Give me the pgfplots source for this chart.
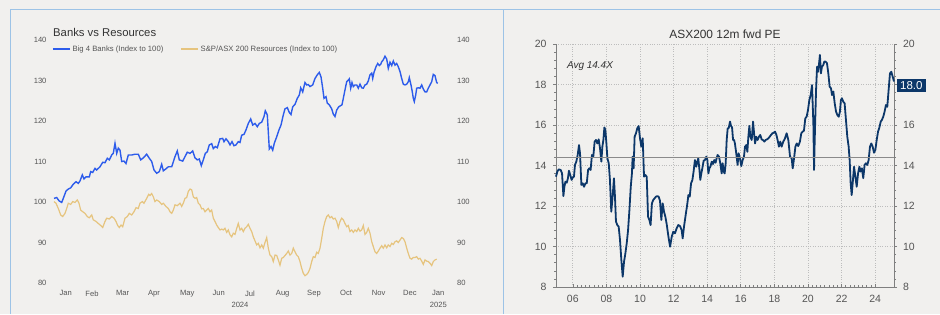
\documentclass[border=0pt]{standalone}
\usepackage{pgfplots}
\pgfplotsset{compat=1.18}
\usepackage{fontspec}
\setmainfont{Liberation Sans}
\definecolor{bg}{HTML}{F1F0EE}
\definecolor{bordercol}{HTML}{9DC3E6}
\definecolor{bankblue}{RGB}{45,92,235}
\definecolor{resgold}{RGB}{230,196,126}
\definecolor{navy}{RGB}{12,55,105}
\definecolor{avgcol}{HTML}{8A8A8A}
\definecolor{gridcol}{HTML}{BDBDBD}
\definecolor{axcol}{HTML}{7F7F7F}
\definecolor{labelgray}{HTML}{555555}
\definecolor{titlegray}{HTML}{333333}
\begin{document}
\begin{tikzpicture}
\path[use as bounding box, fill=bg] (0pt,0pt) rectangle (940pt,314pt);
\draw[bordercol, line width=1pt] (10pt,0pt) -- (10pt,304pt) -- (940pt,304pt);
\draw[bordercol, line width=1pt] (503pt,0pt) -- (503pt,304pt);

% ---------------- Left chart ----------------
\begin{axis}[
  at={(50pt,31pt)}, anchor=south west, scale only axis,
  width=392pt, height=243pt,
  xmin=-4, xmax=388, ymin=80, ymax=140, clip=false,
  axis line style={draw=none}, major tick length=0pt,
  ytick={80,90,...,140},
  xtick={11.7,38,68.7,100,133.3,164.7,196,228.7,260,292,324.7,356,384.3},
  xticklabels={Jan,Feb,Mar,Apr,May,Jun,Jul,Aug,Sep,Oct,Nov,Dec,Jan},
  tick label style={font=\fontsize{7.6}{9}\selectfont, text=labelgray},
  xticklabel style={yshift=-4pt},
  /pgf/number format/assume math mode=true,
  legend columns=2,
  legend style={at={(0.005,0.963)}, anchor=west, draw=none, fill=none,
    font=\fontsize{7.7}{9}\selectfont, text=labelgray, inner sep=0pt,
    /tikz/every even column/.append style={column sep=15pt}},
]
\addplot[bankblue, line width=1.4pt] coordinates {
(0,100.9)(2.7,101.1)(5,100.3)(7.7,99.9)(9.3,100.9)(12,102.7)(14.3,103.2)(16.7,103.5)(19.3,104.4)(22,105.0)(24.3,104.6)(26,105.2)(28.3,106.7)(30,105.7)(32,106.2)(35.3,106.2)(36.7,107.5)(38.7,107.3)(41,108.3)(42.7,107.9)(46,108.7)(48.7,109.8)(51,109.7)(53.3,110.8)(55.3,110.4)(57.7,111.6)(59.3,112.0)(61,114.5)(62.7,112.0)(64.3,113.3)(66,112.8)(67.7,110.0)(70,110.1)(72,109.5)(74.3,111.6)(77.7,111.6)(81,111.8)(84.3,111.8)(86.7,110.4)(89.3,110.9)(92.7,111.8)(95.3,110.8)(97.7,110.0)(100,107.9)(102.7,107.1)(105.3,107.5)(107.7,109.3)(109.3,107.7)(112,108.2)(114.3,108.7)(117.7,108.7)(121,111.2)(123.3,112.6)(125.3,110.4)(128.7,110.1)(131,111.2)(133.3,112.3)(136,112.0)(138.7,112.6)(141,110.9)(143.3,110.4)(145.3,110.6)(147.3,109.0)(149.3,110.4)(151.3,112.0)(153.3,112.4)(155.3,114.1)(157.7,114.4)(159.3,113.2)(161.3,113.7)(163.3,113.4)(166,115.6)(168.7,115.7)(170,114.9)(172,115.6)(174.3,114.9)(176,114.1)(178,114.9)(180,113.9)(182,114.1)(184.3,114.9)(186,114.7)(187.7,116.5)(190,116.7)(192,117.8)(194.3,119.4)(196.7,120.5)(198.7,119.0)(201,119.4)(203.3,118.6)(205.3,119.4)(207.7,119.7)(210,121.1)(211.3,122.5)(213.3,121.5)(215.3,113.1)(217,113.7)(218.7,112.8)(220.3,114.5)(222.7,116.1)(225,117.8)(227,119.0)(229.3,121.5)(231,123.0)(233.3,123.3)(235.3,122.1)(237,121.6)(238.7,123.5)(241,124.1)(243.3,125.6)(245.3,126.4)(246.7,128.2)(248.7,127.2)(251,129.5)(252.7,128.9)(254.3,129.0)(256,128.5)(258.7,128.9)(261,130.5)(263.3,131.4)(265.3,132.0)(267,130.9)(268.7,128.1)(270,125.6)(272,126.0)(273.3,124.4)(275.3,124.0)(277.7,123.0)(279.3,121.7)(281,121.1)(282.7,122.7)(284.7,123.5)(286.7,123.8)(288,124.0)(289.3,125.6)(291,127.7)(292.7,129.7)(294.3,130.1)(295.3,130.4)(296.7,128.1)(298,129.5)(299.3,128.5)(301,128.9)(302.7,128.9)(304.3,128.1)(306,129.1)(307.7,128.2)(309.3,128.1)(311,128.9)(312.7,129.1)(314.3,129.9)(316,131.4)(317.7,131.8)(318.7,130.5)(320,132.0)(322,133.4)(323.7,134.2)(325.3,133.7)(326.7,134.0)(327.7,134.6)(329.3,135.1)(331,136.0)(332.7,135.3)(334.3,133.0)(336,134.5)(337.7,133.7)(339.3,134.8)(341,133.8)(342.7,134.2)(344.3,133.4)(346,132.2)(347.7,130.5)(349.3,129.1)(351,128.9)(352.7,129.1)(354.3,129.7)(355.3,130.7)(357,128.9)(358.3,127.2)(359.3,125.6)(360.3,124.8)(361.7,126.4)(362.7,128.1)(364.3,128.2)(366,128.1)(367.7,128.9)(369.3,127.9)(371,127.2)(372.7,127.2)(374.3,128.1)(376,128.9)(377.7,129.7)(379.3,131.5)(381,131.2)(382.7,129.5)(383.7,129.3)
};
\addlegendentry{Big 4 Banks (Index to 100)}
\addplot[resgold, line width=1.2pt] coordinates {
(0,100.1)(2,99.7)(4.3,98.4)(6.7,96.8)(8.7,96.4)(11,97.2)(12.7,98.4)(14.3,99.7)(16.7,99.4)(18.7,100.1)(21,99.9)(23.3,100.5)(25,99.7)(26.7,98.0)(28.7,97.6)(31,97.2)(33.3,96.4)(35.3,96.1)(37.7,96.8)(39.3,95.6)(42,95.2)(44.3,94.7)(46.7,94.2)(48.7,93.7)(51,95.2)(52.7,96.0)(55.3,95.8)(57.7,96.4)(60,96.0)(62,95.2)(63.7,94.2)(65.3,93.7)(67,94.3)(68.7,93.9)(71,96.0)(73.3,96.4)(75.3,97.2)(77.7,96.8)(80,97.6)(82,98.6)(84.3,98.4)(86,99.7)(88.3,100.1)(90,99.7)(92.7,100.9)(94.7,101.9)(96,101.6)(97.7,102.1)(99.3,101.3)(101,100.1)(102.7,100.5)(105.3,100.1)(107.7,99.4)(109.3,99.7)(112,98.9)(114.3,98.4)(116,97.6)(117.7,97.2)(119.3,98.0)(121,99.3)(123.3,99.1)(126,99.7)(127.7,98.9)(129.3,99.7)(131,100.9)(132.7,101.1)(134.3,102.6)(136,103.2)(137.7,103.0)(139.3,101.3)(141,100.9)(142.7,101.1)(144.3,99.7)(146,99.3)(147.7,98.3)(149.3,98.4)(151,97.6)(152.7,98.0)(154.3,98.4)(156,97.6)(157.7,98.0)(159.3,96.0)(161,95.2)(162.7,94.3)(164.3,93.7)(166,93.1)(167.7,93.3)(169.3,93.1)(171,93.5)(172.7,92.5)(174.3,93.1)(176,91.9)(177.7,91.4)(179.3,92.3)(181,92.0)(182.7,93.5)(184.3,94.7)(186,93.1)(187.7,93.5)(189.3,92.7)(191,93.5)(192.7,93.9)(194.3,94.5)(196,93.5)(197.7,92.7)(199.3,91.4)(201,90.4)(202.7,89.4)(204.3,89.8)(206,88.7)(207.7,89.4)(209.3,88.6)(211,90.0)(212.7,91.2)(214.3,88.6)(216,86.9)(217.7,86.5)(219.3,85.3)(221,86.9)(222.7,86.8)(224.3,85.7)(226,84.4)(227.7,86.1)(229.3,86.3)(231,86.8)(232.7,87.3)(234.3,87.9)(236,86.9)(237.7,87.3)(239.3,88.6)(241,87.7)(242.7,86.9)(244.3,86.5)(246,85.3)(247.7,83.6)(249.3,82.4)(251,81.8)(252.7,82.1)(254.3,82.6)(256,83.6)(257.7,85.3)(259.3,86.5)(261,86.3)(262.7,87.6)(264.3,87.3)(266,88.6)(267.7,91.0)(269.3,93.5)(271,95.2)(272.7,96.4)(274.3,96.8)(276,96.1)(277.7,96.4)(279.3,95.8)(281,96.0)(282.7,95.2)(284.3,93.7)(286,95.2)(287.7,96.0)(289.3,95.6)(291,94.7)(292.7,93.9)(294.3,94.2)(296,92.7)(297.7,93.1)(299.3,92.5)(301,93.1)(302.7,92.7)(304.3,93.5)(306,92.8)(307.7,93.1)(309.3,94.2)(311,92.0)(312.7,92.5)(314.3,93.5)(316,92.3)(317.7,90.2)(319.3,89.0)(321,87.7)(322.7,87.3)(324.3,87.9)(326,88.6)(327.7,89.2)(329.3,88.6)(331,89.4)(332.7,88.7)(334.3,89.4)(336,89.0)(337.7,89.8)(339.3,89.5)(341,90.2)(342.7,90.4)(344.3,90.0)(346,90.6)(347.7,91.2)(349.3,91.0)(351,90.2)(352.7,88.6)(354.3,87.3)(356,86.1)(357.7,85.9)(359.3,86.3)(361,86.3)(362.7,86.5)(364.3,85.9)(366,86.1)(367.7,85.4)(369.3,84.6)(371,85.7)(372.7,85.4)(374.3,85.3)(376,84.9)(377.7,84.3)(379.3,85.3)(381,85.7)(382.7,85.9)
};
\addlegendentry{S\&P/ASX 200 Resources (Index to 100)}
\end{axis}
\begin{axis}[
  at={(50pt,31pt)}, anchor=south west, scale only axis,
  width=392pt, height=243pt,
  xmin=-4, xmax=388, ymin=80, ymax=140,
  hide x axis, axis line style={draw=none}, major tick length=0pt,
  ytick={80,90,...,140}, yticklabel pos=right,
  tick label style={font=\fontsize{7.6}{9}\selectfont, text=labelgray},
  yticklabel style={xshift=11.5pt},
  /pgf/number format/assume math mode=true,
]
\end{axis}
\fill[bg] (469.5pt,20pt) rectangle (500pt,290pt);
\node[anchor=west, font=\fontsize{11.3}{13}\selectfont, text=titlegray, inner sep=0pt] at (53pt,282pt) {Banks vs Resources};
\node[font=\fontsize{7.6}{9}\selectfont, text=labelgray, inner sep=0pt] at (240pt,9.5pt) {2024};
\node[font=\fontsize{7.6}{9}\selectfont, text=labelgray, inner sep=0pt] at (438.3pt,9pt) {2025};

% ---------------- Right chart ----------------
% left y axis + horizontal grid
\begin{axis}[
  at={(556pt,27pt)}, anchor=south west, scale only axis,
  width=338pt, height=243pt,
  xmin=2005, xmax=2025.12, ymin=8, ymax=20,
  axis x line=none, axis y line*=left, xtick=\empty,
  ytick={8,10,...,20}, minor y tick num=4,
  tick align=outside, major tick length=3pt, minor tick length=2pt,
  ymajorgrids, major grid style={dotted, gridcol, line width=0.7pt},
  axis line style={axcol, line width=0.8pt}, tick style={axcol, line width=0.6pt},
  tick label style={font=\fontsize{10.5}{12}\selectfont, text=labelgray},
  yticklabel style={xshift=-3pt},
  /pgf/number format/assume math mode=true,
]
\end{axis}
% right y axis
\begin{axis}[
  at={(556pt,27pt)}, anchor=south west, scale only axis,
  width=338pt, height=243pt,
  xmin=2005, xmax=2025.12, ymin=8, ymax=20,
  axis x line=none, axis y line*=right, xtick=\empty,
  ytick={8,10,...,20}, yticklabels={8,10,12,14,16,,20}, minor y tick num=4,
  tick align=outside, major tick length=3pt, minor tick length=2pt,
  axis line style={axcol, line width=0.8pt}, tick style={axcol, line width=0.6pt},
  tick label style={font=\fontsize{10.5}{12}\selectfont, text=labelgray},
  yticklabel style={xshift=2.5pt},
  /pgf/number format/assume math mode=true,
]
\end{axis}
% main axis with data
\begin{axis}[
  at={(556pt,27pt)}, anchor=south west, scale only axis,
  width=338pt, height=243pt,
  xmin=2005, xmax=2025.12, ymin=8, ymax=20,
  axis x line*=bottom, axis y line=none, ytick=\empty,
  xtick={2006,2008,...,2024},
  xticklabels={06,08,10,12,14,16,18,20,22,24},
  minor x tick num=7,
  tick align=inside, major tick length=3pt, minor tick length=2pt,
  xmajorgrids, major grid style={dotted, gridcol, line width=0.7pt},
  axis line style={axcol, line width=0.8pt}, tick style={axcol, line width=0.6pt},
  tick label style={font=\fontsize{10.5}{12}\selectfont, text=labelgray},
  xticklabel style={yshift=-5pt},
  clip=false,
]
\addplot[navy, line width=1.8pt, line join=round] coordinates {
(2005.00,13.45)(2005.08,13.70)(2005.16,13.81)(2005.28,13.78)(2005.36,13.61)(2005.44,12.49)(2005.50,12.95)(2005.56,13.20)(2005.64,13.15)(2005.71,13.37)(2005.77,13.74)(2005.85,13.53)(2005.93,13.29)(2006.01,13.42)(2006.07,13.45)(2006.13,14.03)(2006.21,14.19)(2006.29,14.52)(2006.37,15.01)(2006.43,14.60)(2006.51,13.04)(2006.59,13.12)(2006.67,12.95)(2006.75,13.12)(2006.83,13.12)(2006.91,13.78)(2006.98,13.86)(2007.06,13.78)(2007.14,14.52)(2007.22,14.44)(2007.30,15.18)(2007.38,15.26)(2007.46,15.09)(2007.54,15.29)(2007.62,14.85)(2007.70,14.19)(2007.76,14.93)(2007.82,15.26)(2007.88,15.88)(2007.94,15.75)(2008.00,15.09)(2008.06,14.35)(2008.14,14.11)(2008.21,13.29)(2008.29,11.72)(2008.37,12.46)(2008.45,13.37)(2008.51,12.46)(2008.57,11.23)(2008.65,11.06)(2008.73,10.98)(2008.81,10.32)(2008.89,9.33)(2008.97,8.51)(2009.05,9.25)(2009.13,9.66)(2009.21,10.16)(2009.29,10.81)(2009.37,11.80)(2009.45,12.95)(2009.52,13.61)(2009.56,14.44)(2009.62,13.86)(2009.68,15.42)(2009.76,15.59)(2009.84,15.84)(2009.92,15.95)(2010.00,15.34)(2010.08,14.93)(2010.16,15.34)(2010.24,13.45)(2010.32,13.53)(2010.40,13.45)(2010.48,11.47)(2010.56,11.31)(2010.63,11.06)(2010.71,12.13)(2010.79,12.30)(2010.87,12.38)(2010.95,12.46)(2011.03,12.49)(2011.11,12.46)(2011.19,12.26)(2011.27,11.31)(2011.35,12.13)(2011.43,11.72)(2011.51,11.47)(2011.59,11.10)(2011.69,10.50)(2011.79,9.99)(2011.89,10.49)(2011.98,10.73)(2012.08,10.65)(2012.18,10.90)(2012.28,11.06)(2012.38,11.01)(2012.48,10.81)(2012.54,10.40)(2012.62,10.98)(2012.72,11.56)(2012.82,12.13)(2012.88,12.54)(2012.96,12.46)(2013.04,13.12)(2013.12,13.29)(2013.19,13.70)(2013.27,14.27)(2013.35,13.94)(2013.41,14.19)(2013.47,14.35)(2013.53,13.86)(2013.59,13.29)(2013.65,13.61)(2013.71,13.86)(2013.79,14.24)(2013.87,14.27)(2013.95,14.44)(2014.01,14.27)(2014.07,13.61)(2014.13,13.86)(2014.19,13.94)(2014.27,14.19)(2014.35,14.07)(2014.42,14.27)(2014.50,14.14)(2014.56,14.35)(2014.62,14.52)(2014.70,14.44)(2014.78,14.11)(2014.86,13.61)(2014.92,14.11)(2014.98,13.70)(2015.04,13.61)(2015.10,14.11)(2015.16,15.26)(2015.22,15.84)(2015.28,15.84)(2015.36,16.17)(2015.42,15.95)(2015.48,15.88)(2015.54,15.26)(2015.60,15.26)(2015.65,15.09)(2015.73,14.60)(2015.81,14.03)(2015.87,14.60)(2015.95,14.35)(2016.03,13.97)(2016.11,14.27)(2016.19,14.44)(2016.25,14.93)(2016.33,15.01)(2016.39,14.68)(2016.45,15.42)(2016.51,15.95)(2016.57,15.42)(2016.65,15.26)(2016.73,16.17)(2016.79,15.59)(2016.85,15.09)(2016.92,15.42)(2017.00,15.26)(2017.08,15.42)(2017.16,15.51)(2017.24,15.29)(2017.32,15.26)(2017.40,15.18)(2017.48,15.26)(2017.56,15.29)(2017.64,15.34)(2017.72,15.42)(2017.80,15.51)(2017.88,15.59)(2017.96,15.62)(2018.04,15.67)(2018.12,15.51)(2018.19,15.26)(2018.27,14.93)(2018.35,15.18)(2018.43,14.93)(2018.53,15.18)(2018.63,15.34)(2018.73,15.59)(2018.83,15.26)(2018.93,14.44)(2019.03,14.35)(2019.09,13.86)(2019.17,14.35)(2019.25,14.93)(2019.33,15.09)(2019.42,14.96)(2019.52,15.18)(2019.60,15.59)(2019.68,15.67)(2019.76,15.72)(2019.84,16.33)(2019.92,16.41)(2020.00,16.74)(2020.08,17.23)(2020.16,17.48)(2020.24,17.97)(2020.32,16.08)(2020.36,13.78)(2020.40,15.26)(2020.48,17.73)(2020.54,18.88)(2020.60,18.63)(2020.65,18.96)(2020.71,19.46)(2020.77,18.55)(2020.83,18.88)(2020.91,18.96)(2020.97,19.13)(2021.05,19.13)(2021.13,19.05)(2021.21,18.55)(2021.29,17.89)(2021.37,17.81)(2021.43,17.48)(2021.51,17.65)(2021.59,17.07)(2021.67,16.66)(2021.75,16.49)(2021.83,16.41)(2021.90,16.66)(2021.96,17.23)(2022.02,17.32)(2022.10,17.15)(2022.18,17.07)(2022.26,16.25)(2022.34,15.42)(2022.42,14.93)(2022.48,14.27)(2022.54,13.12)(2022.60,12.54)(2022.66,13.12)(2022.74,13.94)(2022.82,13.45)(2022.90,12.95)(2022.98,13.61)(2023.06,13.94)(2023.13,13.70)(2023.21,13.86)(2023.29,13.37)(2023.37,14.03)(2023.45,14.11)(2023.53,14.03)(2023.61,14.27)(2023.69,14.93)(2023.77,15.09)(2023.85,14.93)(2023.93,14.63)(2024.01,14.77)(2024.09,15.26)(2024.17,15.67)(2024.25,15.88)(2024.33,16.17)(2024.40,16.25)(2024.48,16.41)(2024.56,16.66)(2024.64,16.99)(2024.72,16.90)(2024.80,17.73)(2024.88,18.55)(2024.96,18.63)(2025.04,18.39)(2025.12,18.15)
};
\addplot[avgcol, line width=1.3pt] coordinates {(2005,14.4) (2025.12,14.4)};
\end{axis}
\node[font=\fontsize{11.9}{14}\selectfont, text=titlegray, inner sep=0pt] at (725pt,280pt) {ASX200 12m fwd PE};
\node[font=\itshape\fontsize{10}{12}\selectfont, text=titlegray, inner sep=0pt] at (590pt,248pt) {Avg 14.4X};
\node[fill=navy, text=white, font=\fontsize{11.5}{13}\selectfont, inner xsep=3pt, inner ysep=0pt, minimum height=13.3pt, anchor=west] at (897pt,228.7pt) {18.0};
\end{tikzpicture}
\end{document}
